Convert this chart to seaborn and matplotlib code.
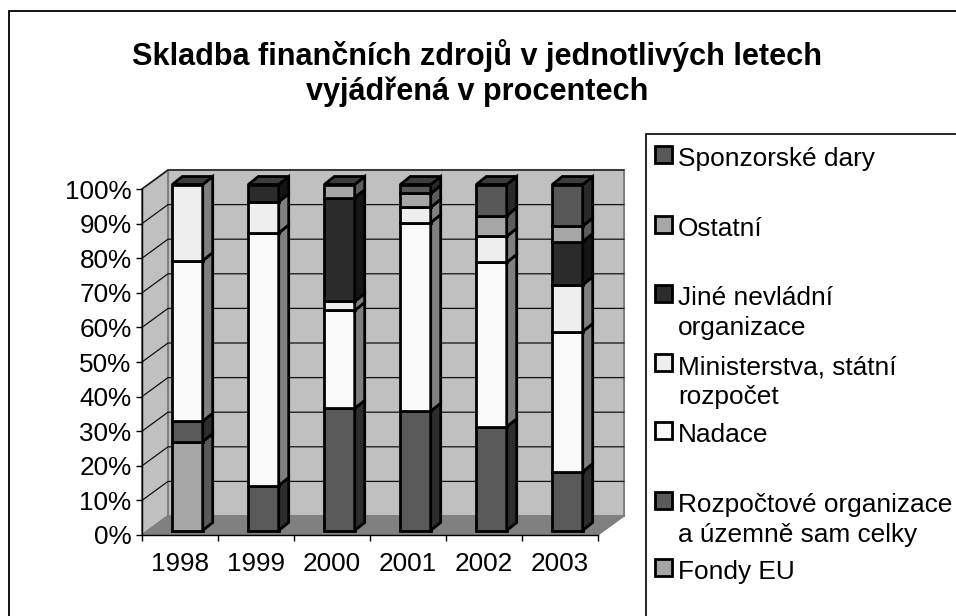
#encoding utf-8
# Skladba financnich zdroju - 3D look stacked bars
import matplotlib as mpl
mpl.use('Agg')
import matplotlib.pyplot as plt
from matplotlib.patches import Polygon, Rectangle
from matplotlib.transforms import Affine2D
import seaborn as sns
import pandas as pd

years = ['1998', '1999', '2000', '2001', '2002', '2003']
fondy_eu = [25.7, 0, 0, 0, 0, 0]
rozpoctove = [5.9, 13, 35.3, 34.5, 30, 17]
nadace = [46.4, 73, 28.3, 54.5, 47.5, 40.5]
ministerstva = [22, 9, 2.6, 4.4, 7.5, 13.5]
jine = [0, 5, 30, 0, 0, 12.5]
ostatni = [0, 0, 3.8, 4, 6, 4.5]
sponzorske = [0, 0, 0, 2.6, 9, 12]

y_ticks = [0, 10, 20, 30, 40, 50, 60, 70, 80, 90, 100]
y_labels = ['0%', '10%', '20%', '30%', '40%', '50%', '60%', '70%', '80%', '90%', '100%']

# od spodu nahoru: nazev, hodnoty, celo, bok
series = [
    ('Fondy EU', fondy_eu, '#a6a6a6', '#595959'),
    ('Rozpočtové organizace\na územně sam celky', rozpoctove, '#5a5a5a', '#2d2d2d'),
    ('Nadace', nadace, '#fafafa', '#808080'),
    ('Ministerstva, státní\nrozpočet', ministerstva, '#eeeeee', '#808080'),
    ('Jiné nevládní\norganizace', jine, '#2b2b2b', '#141414'),
    ('Ostatní', ostatni, '#a6a6a6', '#5c5c5c'),
    ('Sponzorské dary', sponzorske, '#585858', '#2a2a2a'),
]
legend_y = [570, 503, 433, 365, 296, 227, 157]

W, H = 956, 616
L, R, T, B = 142, 598, 189, 535
ppx = (R - L) / 6.0     # px na kategorii
ppy = (B - T) / 100.0   # px na procento

sns.set_theme(style='white')
plt.rcParams['font.family'] = ['Liberation Sans', 'DejaVu Sans']

fig = plt.figure(figsize=(W / 100, H / 100), dpi=100, facecolor='white')
ax = fig.add_axes([L / W, (H - B) / H, (R - L) / W, (B - T) / H])
ax.patch.set_alpha(0)

df = pd.DataFrame({s[0]: s[1] for s in series})
df['rok'] = years

# steny a podlaha
wx, wy = 26 / ppx, 19 / ppy
x0, x1 = -0.5, 5.5
ax.add_patch(Polygon([(x0 + wx, wy), (x1 + wx, wy), (x1 + wx, 100 + wy), (x0 + wx, 100 + wy)],
                     fc='#c0c0c0', ec='#808080', lw=1.5, clip_on=False, zorder=0.5))
ax.add_patch(Polygon([(x0, 0), (x0 + wx, wy), (x0 + wx, 100 + wy), (x0, 100)],
                     fc='#c0c0c0', ec='#808080', lw=1.5, clip_on=False, zorder=0.5))
ax.add_patch(Polygon([(x0, 0), (x1, 0), (x1 + wx, wy), (x0 + wx, wy)],
                     fc='#808080', ec='#808080', lw=1, clip_on=False, zorder=0.6))
for t in y_ticks[1:]:
    ax.plot([x0, x0 + wx, x1 + wx], [t, t + wy, t + wy], color='#111111', lw=0.9,
            clip_on=False, zorder=0.7)

# sloupce - posun o kousek dovnitr od osy
offset = Affine2D().translate(7.5, 4.5)
dx, dy = 10 / ppx, 8 / ppy
edge = 2
bottom = [0.0] * 6
tops = {}
for name, vals, front, side in series:
    sub = df[df[name] > 0]
    bot = [bottom[years.index(r)] for r in sub['rok']]
    n = len(ax.patches)
    sns.barplot(x=sub['rok'].tolist(), y=sub[name].tolist(), order=years, bottom=bot, width=0.4,
                color=front, saturation=1, edgecolor='black', linewidth=edge, ax=ax, zorder=3)
    for p in ax.patches[n:]:
        p.set_transform(ax.transData + offset)
        p.set_clip_on(False)
        bx, by, bw, bh = p.get_x(), p.get_y(), p.get_width(), p.get_height()
        ax.add_patch(Polygon([(bx + bw, by), (bx + bw + dx, by + dy), (bx + bw + dx, by + bh + dy), (bx + bw, by + bh)],
                             fc=side, ec='black', lw=edge, clip_on=False, zorder=3,
                             transform=ax.transData + offset))
        tops[round(bx, 3)] = (bx, bw, by + bh)
    bottom = [b + v for b, v in zip(bottom, vals)]
for bx, bw, ty in tops.values():
    ax.add_patch(Polygon([(bx, ty), (bx + bw, ty), (bx + bw + dx, ty + dy), (bx + dx, ty + dy)],
                         fc='#3d3d3d', ec='black', lw=edge, clip_on=False, zorder=3,
                         transform=ax.transData + offset))

ax.set_xlim(x0, x1)
ax.set_ylim(0, 100)
ax.set_yticks(y_ticks)
ax.set_yticklabels(y_labels)
ax.set_xlabel('')
ax.set_ylabel('')
ax.set_xticks([x0 + i for i in range(7)], minor=True)
ax.tick_params(axis='x', which='major', length=0, pad=12, labelsize=18.8, colors='black')
ax.tick_params(axis='x', which='minor', length=4.5, width=1, color='black', bottom=True)
ax.tick_params(axis='y', which='major', length=4.5, width=1, color='black', left=True, pad=3,
               labelsize=18.8, labelcolor='black')
for s in ['top', 'right']:
    ax.spines[s].set_visible(False)
for s in ['left', 'bottom']:
    ax.spines[s].set_color('black')
    ax.spines[s].set_linewidth(1)
    ax.spines[s].set_zorder(2)

# ramecek, nadpis, legenda
fig.add_artist(Rectangle((9 / W, -1), 2, (H - 11) / H + 1, fill=False, ec='black', lw=1.3, transform=fig.transFigure))
fig.add_artist(Rectangle((646 / W, -1), 2, (H - 134) / H + 1, fill=False, ec='black', lw=1.2, transform=fig.transFigure))
fig.text(477 / W, 1 - 56 / H, 'Skladba finančních zdrojů v jednotlivých letech', ha='center', va='center',
         fontsize=22.1, fontweight='bold', color='black')
fig.text(477 / W, 1 - 92 / H, 'vyjádřená v procentech', ha='center', va='center',
         fontsize=22.1, fontweight='bold', color='black')
for (name, vals, front, side), ly in zip(series, legend_y):
    fig.add_artist(Rectangle((655 / W, 1 - (ly + 6) / H), 17 / W, 17 / H, fc=front, ec='black', lw=2,
                             transform=fig.transFigure))
    fig.text(678 / W, 1 - (ly - 10) / H, name, ha='left', va='top', fontsize=18.9, color='black', linespacing=1.3)

fig.savefig('out.png', dpi=100)
